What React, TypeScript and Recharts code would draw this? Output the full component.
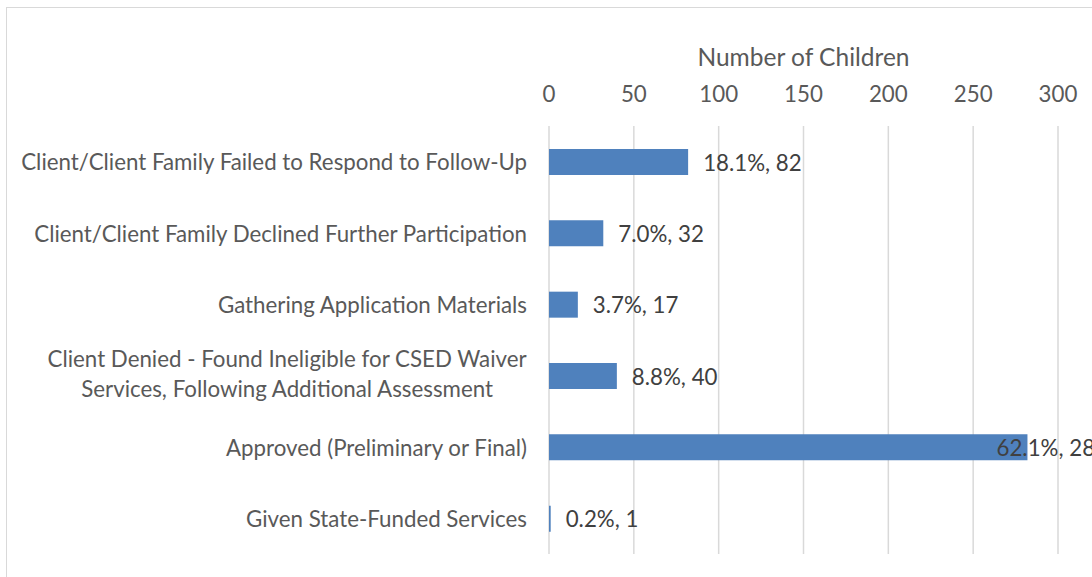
import React from 'react';
import { BarChart, Bar, XAxis, YAxis, CartesianGrid, LabelList, Label } from 'recharts';

// outcome categories (top to bottom), "\n" marks where the label wraps
const categories = [
    'Client/Client Family Failed to Respond to Follow-Up',
    'Client/Client Family Declined Further Participation',
    'Gathering Application Materials',
    'Client Denied - Found Ineligible for CSED Waiver\nServices, Following Additional Assessment',
    'Approved (Preliminary or Final)',
    'Given State-Funded Services',
];
const children = [82, 32, 17, 40, 282, 1];
const percents = ['18.1', '7.0', '3.7', '8.8', '62.1', '0.2'];
const xTicks = [0, 50, 100, 150, 200, 250, 300];

const data = categories.map((name, i) => ({ name, value: children[i], pct: percents[i] }));

const FONT = 'Lato, "Open Sans", sans-serif';
const FONT_SIZE = 22.3;
const TICK_COLOR = '#595959';
const LABEL_COLOR = '#404040';

let ctx: CanvasRenderingContext2D | null = null;
const measure = (text: string) => {
    if (!ctx) ctx = document.createElement('canvas').getContext('2d');
    if (!ctx) return text.length * FONT_SIZE * 0.5;
    ctx.font = `${FONT_SIZE}px ${FONT}`;
    return ctx.measureText(text).width;
};

const CategoryTick = (props: any) => {
    const { x, y, payload } = props;
    const lines: string[] = String(payload.value).split('\n');
    if (lines.length === 1) {
        return (
            <text x={x} y={y} textAnchor="end" dominantBaseline="central" fill={TICK_COLOR} fontSize={FONT_SIZE} fontFamily={FONT}>
                {lines[0]}
            </text>
        );
    }
    // wrapped labels: lines centred inside the widest line's box, box right-aligned
    const maxW = Math.max(...lines.map(measure));
    const cx = x - maxW / 2;
    const lh = 30;
    const top = y - ((lines.length - 1) * lh) / 2 - 2;
    return (
        <g>
            {lines.map((l, i) => (
                <text key={i} x={cx} y={top + i * lh} textAnchor="middle" dominantBaseline="central" fill={TICK_COLOR} fontSize={FONT_SIZE} fontFamily={FONT}>
                    {l}
                </text>
            ))}
        </g>
    );
};

const ValueTick = (props: any) => {
    const { x, y, payload } = props;
    return (
        <text x={x} y={y} textAnchor="middle" dominantBaseline="central" fill={TICK_COLOR} fontSize={FONT_SIZE} fontFamily={FONT}>
            {payload.value}
        </text>
    );
};

const CHART_W = 1092;

const BarLabel = (props: any) => {
    const { x, y, width, height, index, value } = props;
    const text = `${percents[index]}%, ${value}`;
    const w = measure(text);
    // Excel pulls the label back inside the chart area when it would overflow
    const tx = Math.min(x + width + 15, CHART_W + 16 - w);
    return (
        <text x={tx} y={y + height / 2} dominantBaseline="central" fill={LABEL_COLOR} fontSize={FONT_SIZE} fontFamily={FONT}>
            {text}
        </text>
    );
};

export default function App() {
    return (
        <div style={{ position: 'relative', width: 1092, height: 577, overflow: 'hidden', background: '#fff' }}>
            <style>{'body{margin:0}'}</style>
            <div style={{ position: 'absolute', left: 6, top: 7, width: 1200, height: 700, border: '1.5px solid #d9d9d9' }} />
            <div style={{ position: 'absolute', left: 0, top: 0 }}>
                <BarChart
                    width={CHART_W}
                    height={577}
                    data={data}
                    layout="vertical"
                    margin={{ top: 10, right: 34, bottom: 23, left: 0 }}
                    barSize={26}
                >
                    <CartesianGrid horizontal={false} stroke="#d9d9d9" strokeWidth={1.5} />
                    <XAxis
                        type="number"
                        orientation="top"
                        domain={[0, 300]}
                        ticks={xTicks}
                        height={116}
                        axisLine={false}
                        tickLine={false}
                        tickSize={0}
                        tickMargin={33}
                        tick={<ValueTick />}
                        interval={0}
                    >
                        <Label
                            value="Number of Children"
                            position="insideTop"
                            offset={39}
                            fill={TICK_COLOR}
                            fontSize={24.5}
                            fontFamily={FONT}
                        />
                    </XAxis>
                    <YAxis
                        type="category"
                        dataKey="name"
                        width={549}
                        axisLine={false}
                        tickLine={false}
                        tickSize={0}
                        tickMargin={22}
                        tick={<CategoryTick />}
                        interval={0}
                    />
                    <Bar dataKey="value" fill="#4f81bd" isAnimationActive={false}>
                        <LabelList dataKey="value" content={<BarLabel />} />
                    </Bar>
                </BarChart>
            </div>
        </div>
    );
}
